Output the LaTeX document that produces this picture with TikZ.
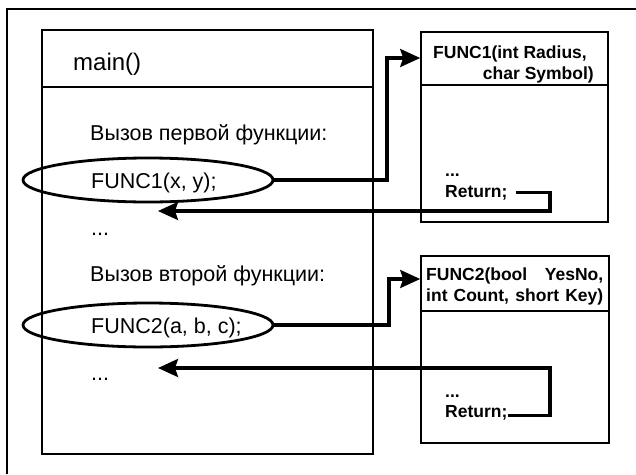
\documentclass[tikz,border=0pt]{standalone}
\usepackage{fontspec}
\setmainfont{Liberation Sans}
\usetikzlibrary{arrows.meta,shapes.geometric}
\begin{document}
\begin{tikzpicture}[x=1pt,y=-1pt,
  frame/.style={line width=1.6pt},
  box/.style={draw,line width=1.6pt,rectangle,inner sep=0pt},
  sepline/.style={line width=1.6pt},
  oval/.style={draw,ellipse,line width=2.8pt,minimum width=250pt,minimum height=44pt,inner sep=0pt},
  maintext/.style={anchor=base west,inner sep=0pt,font=\fontsize{21.5}{24}\selectfont},
  functext/.style={anchor=base west,inner sep=0pt,font=\fontsize{17.5}{20}\selectfont\bfseries},
  conn/.style={line width=3.2pt,-{Stealth[length=20pt,width=18pt,inset=3pt]}}]
\useasboundingbox (0,0) rectangle (636,474);
% outer frame
\draw[frame] (7,474) -- (7,9) -- (636,9);

% boxes
\node[box,minimum width=331pt,minimum height=424pt] (mainbox) at (207.5,242) {};
\node[box,minimum width=187pt,minimum height=190pt] (f1box) at (514.5,127) {};
\node[box,minimum width=188pt,minimum height=187pt] (f2box) at (515,349.5) {};

% header separators
\coordinate (s0) at (0,87);
\coordinate (s1) at (0,85);
\coordinate (s2) at (0,311);
\draw[sepline] (mainbox.west |- s0) -- (mainbox.east |- s0);
\draw[sepline] (f1box.west |- s1) -- (f1box.east |- s1);
\draw[sepline] (f2box.west |- s2) -- (f2box.east |- s2);

% main() contents
\node[maintext,font=\fontsize{24}{28}\selectfont] (mainname) at (73,70) {main()};
\node[maintext] (call1) at (90,140) {Вызов первой функции:};
\node[maintext] (fc1) at (91,188) {FUNC1(x, y);};
\node[maintext] (dots1) at (91,235) {...};
\node[maintext] (call2) at (90,281) {Вызов второй функции:};
\node[maintext] (fc2) at (91,333) {FUNC2(a, b, c);};
\node[maintext] (dots2) at (91,380) {...};

% call highlights
\node[oval] (e1) at (148,180) {};
\node[oval] (e2) at (148,325) {};

% FUNC1 contents
\node[functext] (h1a) at (433,58) {FUNC1(int Radius,};
\node[functext,anchor=base east] (h1b) at (594,79) {char Symbol)};
\node[functext] (d1) at (445,176) {...};
\node[functext] (ret1) at (445,197) {Return;};

% FUNC2 contents
\node[functext] (h2a) at (426,280) {\makebox[177pt][s]{FUNC2(bool YesNo,}};
\node[functext] (h2b) at (426,301) {\makebox[177pt][s]{int Count, short Key)}};
\node[functext] (d2) at (445,397) {...};
\node[functext] (ret2) at (445,417) {Return;};

% calls
\coordinate (k1) at (387,58);
\draw[conn] (e1.east) -| (k1) -- (k1 -| f1box.west);
\coordinate (k2) at (389,279);
\draw[conn] (e2.east) -| (k2) -- (k2 -| f2box.west);

% returns
\coordinate (b1) at (550,211);
\coordinate (t1) at (158,211);
\draw[conn] ([xshift=8pt]ret1.east) -| (b1) -- (t1);
\coordinate (b2) at (550,368);
\coordinate (t2) at (158,368);
\draw[conn] ([yshift=-3pt]ret2.east) -| (b2) -- (t2);
\end{tikzpicture}
\end{document}
